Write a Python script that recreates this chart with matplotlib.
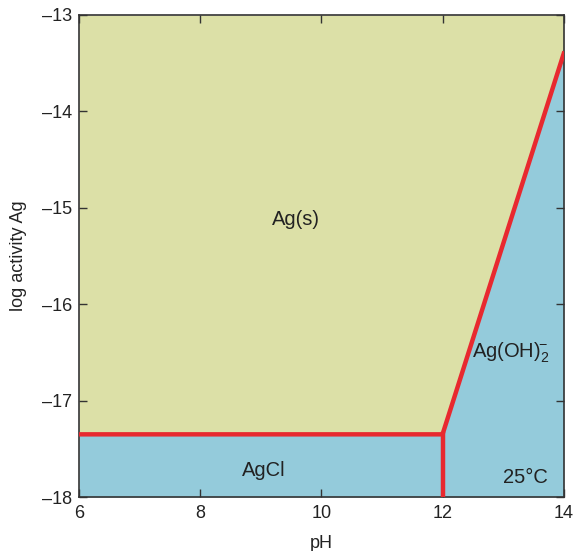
import numpy as np
import matplotlib
matplotlib.use("Agg")
import matplotlib.pyplot as plt

plt.rcParams['font.family'] = ['Liberation Sans', 'DejaVu Sans']
plt.rcParams['mathtext.fontset'] = 'custom'
plt.rcParams['mathtext.rm'] = 'Liberation Sans'
plt.rcParams['mathtext.it'] = 'Liberation Sans:italic'

# phase boundaries (pH, log activity Ag)
ph_bound = [6, 12, 14]
log_ag_bound = [-17.35, -17.35, -13.4]
ph_vert = [12, 12]
log_ag_vert = [-18, -17.35]

xticks = [6, 8, 10, 12, 14]
yticks = [-18, -17, -16, -15, -14, -13]

yellow = '#dce0a7'
blue = '#94cbdb'
red = '#e8292f'

fig = plt.figure(figsize=(5.74, 5.51), dpi=100)
ax = fig.add_axes([0.1376, 0.098, 0.8445, 0.8748])

ax.fill_between(ph_bound, log_ag_bound, -13, color=yellow, lw=0)
ax.fill_between(ph_bound, -18, log_ag_bound, color=blue, lw=0)

ax.plot(ph_bound, log_ag_bound, color=red, lw=3.2, solid_joinstyle='miter', zorder=3)
ax.plot(ph_vert, log_ag_vert, color=red, lw=3.2, zorder=3)

txt = dict(fontsize=14.5, ha='center', va='center', color='#222222')
ax.text(9.58, -15.12, 'Ag(s)', **txt)
ax.text(9.05, -17.72, 'AgCl', **txt)
ax.text(13.12, -16.5, r'Ag(OH)$_2^{\!\!-}$', **txt)
ax.text(13.37, -17.8, '25°C', **txt)

ax.set_xlim(6, 14)
ax.set_ylim(-18, -13)
ax.set_xticks(xticks)
ax.set_yticks(yticks)
ax.set_xticklabels([str(t) for t in xticks])
ax.set_yticklabels(['\u2013%d' % abs(t) for t in yticks])
ax.tick_params(direction='in', top=True, right=True, length=6, width=1,
               labelsize=13, color='#333333', labelcolor='#222222')
ax.tick_params(axis='y', pad=5)
ax.tick_params(axis='x', pad=6)
for s in ax.spines.values():
    s.set_color('#333333')
    s.set_linewidth(1.2)

ax.set_xlabel('pH', fontsize=13, color='#222222', labelpad=9)
ax.set_ylabel('log activity Ag', fontsize=13, color='#222222', labelpad=11)

fig.savefig('out.png', dpi=100)
